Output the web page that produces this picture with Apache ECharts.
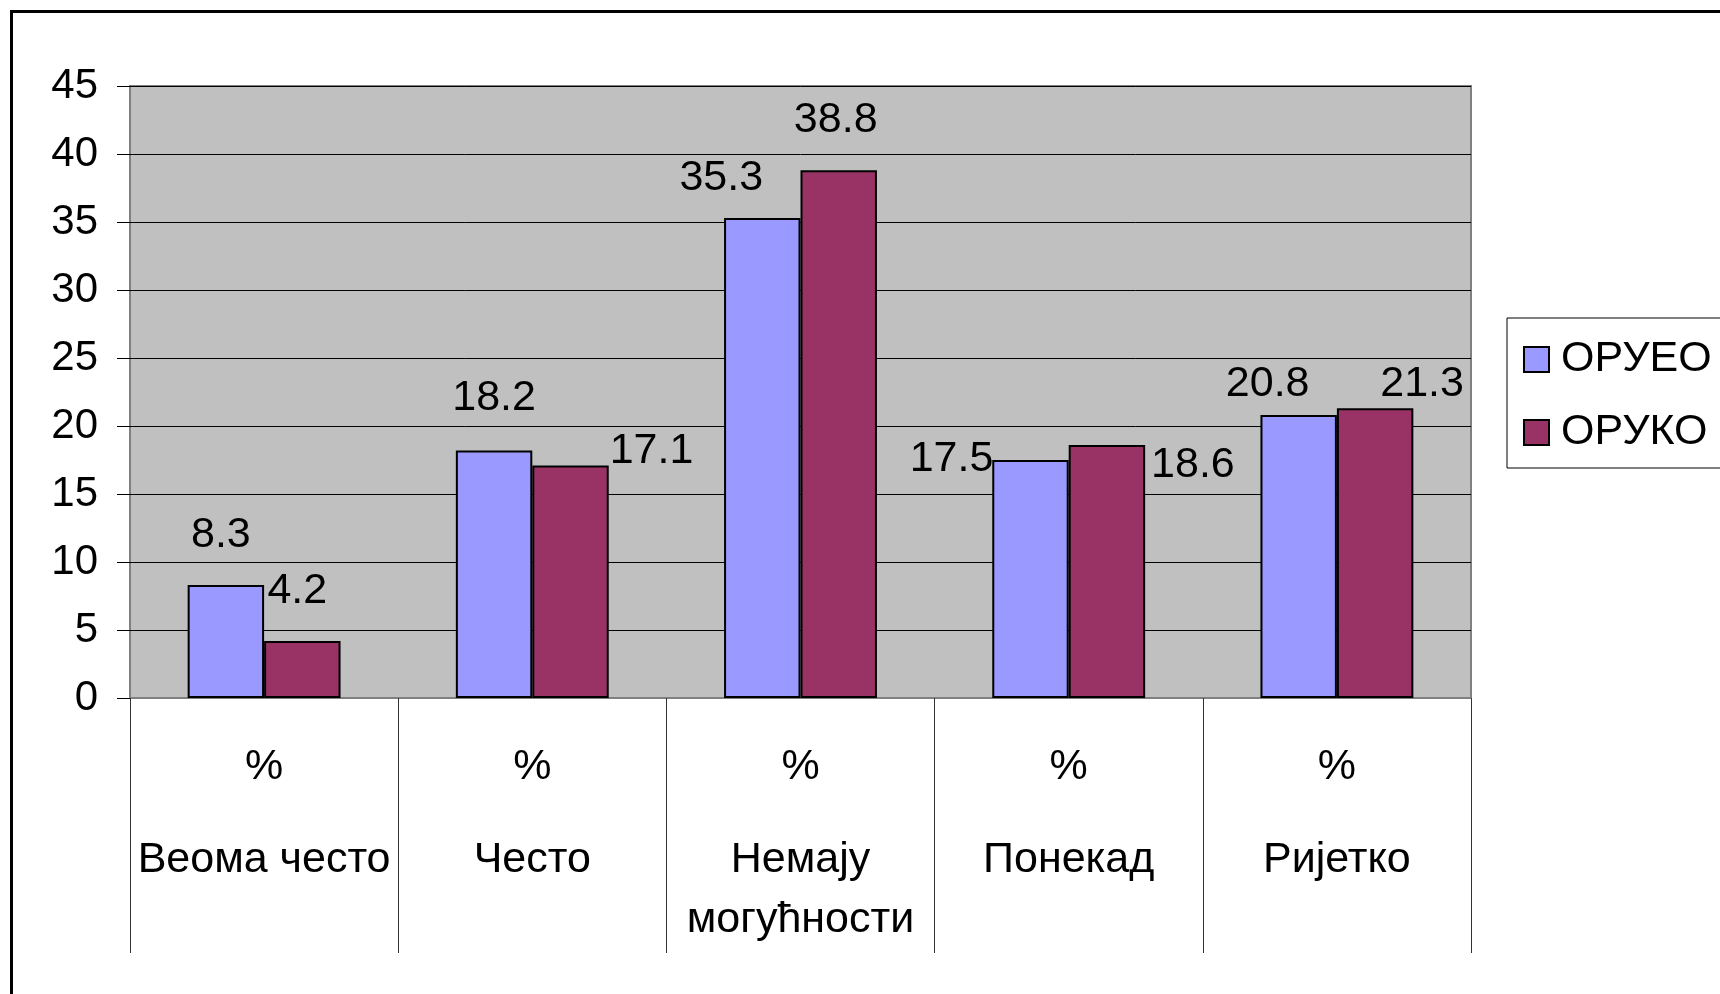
<!DOCTYPE html>
<html>
<head>
<meta charset="utf-8">
<script src="https://cdn.jsdelivr.net/npm/echarts@6/dist/echarts.min.js"></script>
<style>
html,body{margin:0;padding:0;background:#fff;}
#chart{width:1720px;height:994px;}
</style>
</head>
<body>
<div id="chart"></div>
<script>
// ---- data ----
const categories = ['Веома често', 'Често', 'Немају\nмогућности', 'Понекад', 'Ријетко'];
const tickPrefix = '%';
const seriesNames = ['ОРУЕО', 'ОРУКО'];
const valuesOrueo = [8.3, 18.2, 35.3, 17.5, 20.8];
const valuesOruko = [4.2, 17.1, 38.8, 18.6, 21.3];
const yTicks = { min: 0, max: 45, interval: 5 };

// ---- label placement (style only) ----
const labelOffsetsOrueo = [[-5, -50], [0, -52], [-41, -40], [-79, -1], [-31, -31]];
const labelOffsetsOruko = [[-5, -50], [81, -14], [-3, -50], [86, 20], [47, -24]];

const FONT = '"Liberation Sans", Arial, sans-serif';
const colors = ['#9999FF', '#993366'];

function buildData(values, offsets) {
  return values.map((v, i) => ({ value: v, label: { offset: offsets[i] } }));
}

const chart = echarts.init(document.getElementById('chart'), null, { renderer: 'canvas' });

const option = {
  backgroundColor: '#ffffff',
  animation: false,
  textStyle: { fontFamily: FONT },
  graphic: [{
    type: 'rect',
    z: -10,
    shape: { x: 11.5, y: 11.5, width: 1800, height: 1100 },
    style: { fill: 'none', stroke: '#000', lineWidth: 3 }
  }],
  grid: {
    left: 130, top: 86, right: 249, bottom: 296,
    show: true,
    backgroundColor: '#C0C0C0',
    borderColor: '#808080',
    borderWidth: 2
  },
  legend: {
    orient: 'vertical',
    left: 1507,
    top: 318,
    padding: [20, 30, 14, 16],
    itemGap: 30,
    itemWidth: 25,
    itemHeight: 25,
    icon: 'rect',
    borderColor: '#000',
    borderWidth: 1,
    backgroundColor: '#fff',
    itemStyle: { borderColor: '#000', borderWidth: 2 },
    textStyle: { fontSize: 43, color: '#000', fontFamily: FONT, padding: [0, 0, 0, 7] },
    data: seriesNames
  },
  xAxis: {
    type: 'category',
    data: categories,
    boundaryGap: true,
    axisLine: { show: true, lineStyle: { color: '#808080', width: 2 } },
    axisTick: { show: true, interval: 0, length: 255, lineStyle: { color: '#333', width: 1 } },
    axisLabel: {
      interval: 0,
      margin: 6,
      color: '#000',
      fontFamily: FONT,
      formatter: function (v) {
        return '{p|' + tickPrefix + '}\n' + v.split('\n').map(s => '{n|' + s + '}').join('\n');
      },
      rich: {
        p: { fontSize: 43, lineHeight: 126, fontFamily: FONT, color: '#000' },
        n: { fontSize: 43, lineHeight: 60, fontFamily: FONT, color: '#000' }
      }
    },
    splitLine: { show: false }
  },
  yAxis: {
    type: 'value',
    min: yTicks.min,
    max: yTicks.max,
    interval: yTicks.interval,
    axisLine: { show: false },
    axisTick: { show: true, length: 13, lineStyle: { color: '#000', width: 1 } },
    axisLabel: { fontSize: 42, color: '#000', margin: 32, fontFamily: FONT },
    splitLine: { show: true, lineStyle: { color: '#000', width: 1 } }
  },
  series: [
    {
      name: seriesNames[0],
      type: 'bar',
      barGap: '0%',
      barCategoryGap: '43%',
      itemStyle: { color: colors[0], borderColor: '#000', borderWidth: 2 },
      label: {
        show: true, position: 'top', distance: 0,
        align: 'center', verticalAlign: 'middle',
        fontSize: 43, color: '#000', fontFamily: FONT
      },
      data: buildData(valuesOrueo, labelOffsetsOrueo)
    },
    {
      name: seriesNames[1],
      type: 'bar',
      barGap: '0%',
      barCategoryGap: '43%',
      itemStyle: { color: colors[1], borderColor: '#000', borderWidth: 2 },
      label: {
        show: true, position: 'top', distance: 0,
        align: 'center', verticalAlign: 'middle',
        fontSize: 43, color: '#000', fontFamily: FONT
      },
      data: buildData(valuesOruko, labelOffsetsOruko)
    }
  ]
};

chart.setOption(option);
</script>
</body>
</html>
